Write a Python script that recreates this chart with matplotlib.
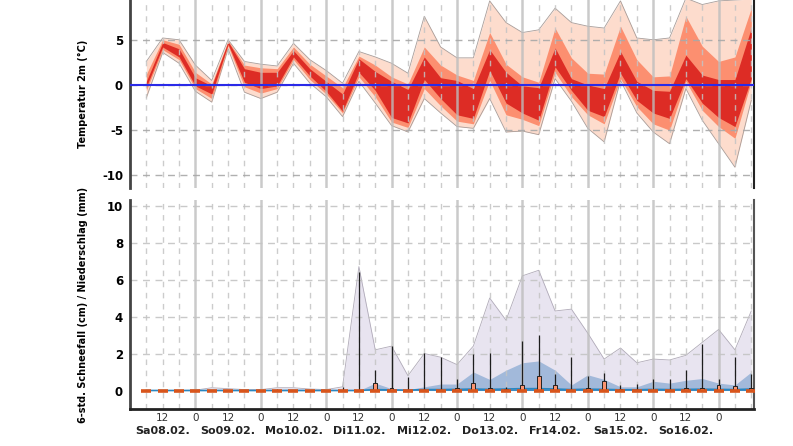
import numpy as np
import matplotlib
matplotlib.use('Agg')
import matplotlib.pyplot as plt
import matplotlib.transforms as mtrans

plt.rcParams['axes.unicode_minus'] = False

# hours since Sa08.02. 00:00, one ensemble step every 6 h
hours = np.arange(6, 229, 6)

# temperature 2m ensemble (°C)
t_min = [-1.4, 3.6, 2.4, -0.7, -1.9, 4.0, -0.8, -1.5, -0.8, 2.4, 0.2, -1.3, -3.5,
         0.4, -2.0, -4.5, -5.2, -1.5, -3.1, -4.6, -4.8, -1.5, -5.2, -5.1, -5.5,
         0.7, -1.8, -4.8, -6.3, 0.5, -3.1, -5.2, -6.5, -0.4, -3.9, -6.5, -9.1, -1.7]
t_p10 = [-0.6, 3.9, 2.8, -0.4, -1.5, 4.3, -0.2, -0.9, -0.4, 2.8, 0.6, -1.0, -3.1,
         0.9, -1.3, -4.1, -4.7, -0.4, -2.3, -4.0, -4.3, 0.5, -3.3, -3.8, -4.5,
         1.4, -1.3, -3.3, -4.3, 0.7, -2.4, -4.3, -5.0, 0.4, -2.8, -4.6, -5.9, 0.4]
t_p25 = [-0.2, 4.2, 3.1, -0.1, -1.0, 4.5, 0.3, -0.4, -0.1, 3.1, 1.0, -0.7, -2.9,
         1.4, -0.6, -3.6, -4.2, 0.6, -1.5, -3.3, -3.7, 1.6, -2.0, -3.1, -3.9,
         2.0, -0.6, -2.8, -3.5, 1.3, -1.7, -3.1, -3.7, 0.7, -2.0, -3.6, -4.6, 0.7]
t_p75 = [0.4, 4.7, 4.0, 0.8, -0.1, 4.8, 1.8, 1.4, 1.4, 3.8, 1.8, 0.4, -1.0,
         2.9, 1.5, 0.4, -0.5, 3.1, 0.8, 0.5, -0.4, 3.9, 1.4, -0.1, -0.3,
         4.1, 0.7, 0.0, -0.4, 3.7, 0.4, -0.6, -0.7, 3.3, 1.1, 0.6, 0.6, 6.3]
t_p90 = [1.2, 5.0, 4.5, 1.4, 0.1, 4.9, 2.2, 1.9, 1.8, 4.2, 2.3, 1.0, -0.3,
         3.2, 2.2, 0.9, 0.1, 4.2, 2.2, 1.1, 0.5, 5.8, 2.3, 0.9, 0.3,
         6.3, 3.0, 1.3, 1.2, 6.5, 2.8, 0.9, 1.0, 7.6, 4.3, 2.6, 3.1, 8.5]
t_max = [2.6, 5.2, 5.0, 2.2, 0.5, 5.0, 2.6, 2.3, 2.1, 4.6, 2.8, 1.6, 0.2,
         3.7, 3.1, 2.4, 1.3, 7.6, 4.2, 3.0, 3.0, 9.3, 6.9, 5.8, 6.1,
         8.5, 6.9, 6.5, 6.3, 9.3, 5.2, 5.0, 5.2, 9.6, 8.9, 9.3, 9.4, 9.5]

# 6-hourly snowfall / precipitation
p_max = [0.0, 0.0, 0.0, 0.02, 0.15, 0.1, 0.05, 0.05, 0.15, 0.15, 0.08, 0.05, 0.2,
         6.7, 2.2, 2.4, 0.8, 2.0, 1.8, 1.4, 2.4, 5.0, 3.8, 6.2, 6.5,
         4.3, 4.4, 3.1, 1.7, 2.3, 1.5, 1.7, 1.65, 1.9, 2.6, 3.3, 2.2, 4.3]
p_blue = [0.0, 0.0, 0.0, 0.0, 0.0, 0.0, 0.0, 0.0, 0.05, 0.08, 0.05, 0.02, 0.0,
          0.0, 0.4, 0.1, 0.05, 0.2, 0.35, 0.35, 1.0, 0.6, 1.1, 1.5, 1.6,
          1.1, 0.3, 0.85, 0.6, 0.2, 0.2, 0.5, 0.4, 0.55, 0.65, 0.4, 0.3, 1.0]
p_med = [0.0, 0.0, 0.0, 0.0, 0.0, 0.0, 0.0, 0.0, 0.0, 0.0, 0.0, 0.0, 0.0,
         0.0, 0.05, 0.03, 0.02, 0.05, 0.05, 0.06, 0.08, 0.06, 0.08, 0.1, 0.1,
         0.08, 0.05, 0.07, 0.06, 0.04, 0.04, 0.06, 0.05, 0.06, 0.07, 0.06, 0.05, 0.08]
box_top = [0, 0, 0, 0, 0, 0, 0, 0, 0.05, 0, 0, 0, 0,
           0, 0.4, 0.12, 0.05, 0, 0, 0.12, 0.4, 0.12, 0.1, 0.3, 0.8,
           0.3, 0, 0.15, 0.5, 0.08, 0, 0.02, 0, 0.15, 0.15, 0.3, 0.25, 0.15]
whisk_top = [0, 0, 0, 0, 0, 0, 0, 0, 0.1, 0.05, 0, 0, 0.2,
             6.4, 1.1, 2.4, 0.75, 2.05, 1.8, 0.6, 2.0, 2.05, 0.2, 2.7, 3.0,
             0.9, 1.8, 0.8, 0.95, 0.3, 0.35, 0.6, 0.6, 1.1, 2.5, 0.6, 1.8, 0.9]

day_labels = ['Sa08.02.', 'So09.02.', 'Mo10.02.', 'Di11.02.', 'Mi12.02.',
              'Do13.02.', 'Fr14.02.', 'Sa15.02.', 'So16.02.']
day_noons = [12, 36, 60, 84, 108, 132, 156, 180, 204]

W, H = 793, 446
fig = plt.figure(figsize=(W / 100, H / 100), dpi=100)
ax1 = fig.add_axes([130 / W, 1 - 188 / H, 624 / W, 188 / H])
ax2 = fig.add_axes([130 / W, 1 - 409 / H, 624 / W, 209 / H])

# --- temperature fan ---
ax1.fill_between(hours, t_min, t_max, color='#fddccd', lw=0, zorder=1)
ax1.plot(hours, t_max, color='#a89c98', lw=0.6, zorder=1.1)
ax1.plot(hours, t_min, color='#a89c98', lw=0.6, zorder=1.1)
ax1.fill_between(hours, t_p10, t_p90, color='#fc8f70', lw=0, zorder=1.2)
ax1.fill_between(hours, t_p25, t_p75, color='#dd2c25', lw=0, zorder=1.3)
ax1.axhline(0, color='#2a2ae8', lw=1.5, zorder=5)

# --- precipitation ---
ax2.fill_between(hours, 0, p_max, color='#e8e4f0', lw=0, zorder=1)
ax2.plot(hours, p_max, color='#b0aab8', lw=0.6, zorder=1.1)
ax2.fill_between(hours, 0, p_blue, color='#a2b9da', lw=0, zorder=1.2)
ax2.fill_between(hours, 0, p_med, color='#3d8dc4', lw=0, zorder=1.3)
ax2.plot(hours, p_med, color='#2a86c0', lw=1.2, zorder=1.3)

for h, b, w in zip(hours, box_top, whisk_top):
    if w > b:
        ax2.vlines(h, b, w, color='#1e1e1e', lw=0.9, zorder=4)
    if b > 0.03:
        ax2.bar(h, b, width=1.4, bottom=0, color='#fb9470', edgecolor='#222222',
                lw=0.7, zorder=4.5)
ax2.plot(hours, np.zeros(len(hours)), ls='none', marker='_', ms=6.5, mew=2.6,
         color='#d8551c', zorder=5)

# --- grid, axes ---
for ax in (ax1, ax2):
    for h in range(6, 229, 6):
        if h % 24 == 0:
            ax.axvline(h, color='#bdbdbd', lw=1.8, alpha=0.8, zorder=2)
        else:
            ax.axvline(h, color='#c4c4c4', lw=1.0, ls=(0, (4, 4)), alpha=0.85, zorder=2)
    ax.set_xlim(0, 229)
    ax.tick_params(length=0)
    ax.spines['top'].set_visible(False)
    ax.spines['left'].set_linewidth(2)
    ax.spines['left'].set_color('#444444')

ax1.set_ylim(-11.4, 9.4)
ax1.set_yticks([-10, -5, 0, 5])
for y in [-10, -5, 0, 5]:
    ax1.axhline(y, color='#a8a8a8', lw=1.0, ls=(0, (5, 4)), alpha=0.9, zorder=2)
ax1.spines['bottom'].set_visible(False)
ax1.spines['right'].set_linewidth(1.5)
ax1.spines['right'].set_color('#222222')
ax1.set_xticks([])

ax2.set_ylim(-1, 10.3)
ax2.set_yticks([0, 2, 4, 6, 8, 10])
for y in [2, 4, 6, 8, 10]:
    ax2.axhline(y, color='#c4c4c4', lw=1.0, ls=(0, (5, 4)), alpha=0.9, zorder=2)
ax2.spines['bottom'].set_linewidth(2)
ax2.spines['bottom'].set_color('#222222')
ax2.spines['right'].set_linewidth(1.5)
ax2.spines['right'].set_color('#555555')

xt = list(range(12, 217, 12))
ax2.set_xticks(xt)
ax2.set_xticklabels(['12' if h % 24 else '0' for h in xt], fontsize=7.5, color='#333333')
ax2.tick_params(axis='x', pad=3)

for ax in (ax1, ax2):
    for lab in ax.get_yticklabels():
        lab.set_fontweight('bold')
        lab.set_fontsize(8.5)
    ax.tick_params(axis='y', pad=5)

ax1.set_ylabel('Temperatur 2m (°C)', fontsize=7, fontweight='bold')
ax2.set_ylabel('6-std. Schneefall (cm) / Niederschlag (mm)', fontsize=7, fontweight='bold')
ax1.yaxis.set_label_coords(-0.067, 0.5)
ax2.yaxis.set_label_coords(-0.067, 0.5)

trans = mtrans.blended_transform_factory(ax2.transData, ax2.transAxes)
for x, lab in zip(day_noons, day_labels):
    ax2.text(x, -0.105, lab, transform=trans, ha='center', va='center',
             fontsize=8, fontweight='bold', color='#222222')

fig.savefig('out.png', dpi=100)
